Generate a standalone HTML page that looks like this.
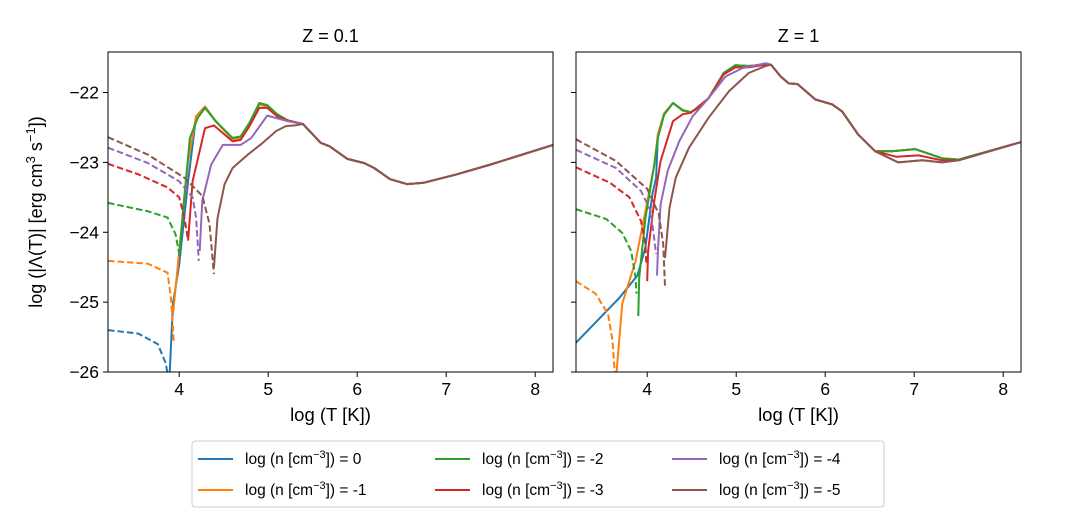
<!DOCTYPE html>
<html><head><meta charset="utf-8"><style>
body{margin:0;background:#fff;}
svg text{font-family:"Liberation Sans","DejaVu Sans",sans-serif;fill:#000;}
</style></head><body>
<svg id="chart" width="1075" height="516" viewBox="0 0 1075 516" xmlns="http://www.w3.org/2000/svg">
<defs>
<clipPath id="clipL"><rect x="108" y="52" width="445" height="320"/></clipPath>
<clipPath id="clipR"><rect x="576" y="52" width="445" height="320"/></clipPath>
</defs>
<g id="root"></g>
</svg>
<script>
const colors=['#1f77b4','#ff7f0e','#2ca02c','#d62728','#9467bd','#8c564b'];
const densityLabels=['0','-1','-2','-3','-4','-5'];
const xTicks=[4,5,6,7,8];
const yTicks=[-22,-23,-24,-25,-26];
const panelTitles=['Z = 0.1','Z = 1'];
const tailL=[[5.39,-22.45],[5.59,-22.72],[5.69,-22.77],[5.89,-22.95],[6.08,-23.01],[6.19,-23.08],[6.37,-23.24],[6.56,-23.31],[6.75,-23.29],[7.12,-23.17],[7.5,-23.03],[8.2,-22.75]];
const headR=[[5.39,-21.6],[5.5,-21.77],[5.59,-21.87],[5.69,-21.88],[5.89,-22.1],[6.08,-22.17],[6.19,-22.27],[6.37,-22.6],[6.56,-22.84]];
const tailRhigh=[[6.75,-22.84],[7.01,-22.81],[7.31,-22.94],[7.5,-22.96],[8.2,-22.71]];
const tailRmid=[[6.8,-22.92],[7.05,-22.9],[7.31,-22.97],[7.5,-22.97],[8.2,-22.71]];
const tailRlow=[[6.82,-23.0],[7.09,-22.97],[7.31,-23.0],[7.5,-22.97],[8.2,-22.71]];
const orangeL=[[3.93,-25.17],[4.0,-24.27],[4.1,-22.98],[4.19,-22.34],[4.29,-22.2],[4.41,-22.41],[4.6,-22.67],[4.69,-22.65],[4.79,-22.45],[4.9,-22.17],[4.99,-22.2],[5.1,-22.31],[5.22,-22.4]];
const solidL=[
 [[3.89,-26.1],[3.93,-25.02],[4.0,-24.46],[4.1,-23.27],[4.19,-22.34],[4.29,-22.2],[4.41,-22.41],[4.6,-22.67],[4.69,-22.65],[4.79,-22.45],[4.9,-22.17],[4.99,-22.2],[5.1,-22.31],[5.22,-22.4]],
 orangeL,
 [[4.0,-24.34],[4.05,-23.6],[4.12,-22.65],[4.21,-22.36],[4.29,-22.22],[4.41,-22.41],[4.6,-22.65],[4.69,-22.63],[4.79,-22.43],[4.9,-22.15],[4.99,-22.18],[5.1,-22.31],[5.22,-22.4]],
 [[4.1,-24.12],[4.15,-23.27],[4.29,-22.51],[4.39,-22.47],[4.6,-22.7],[4.69,-22.68],[4.79,-22.48],[4.9,-22.22],[4.99,-22.22],[5.1,-22.34],[5.22,-22.4]],
 [[4.23,-24.27],[4.26,-23.55],[4.36,-23.03],[4.49,-22.75],[4.69,-22.75],[4.81,-22.65],[4.99,-22.33],[5.22,-22.41]],
 [[4.39,-24.51],[4.43,-23.8],[4.51,-23.31],[4.6,-23.08],[4.77,-22.89],[4.92,-22.74],[5.09,-22.55],[5.2,-22.48],[5.3,-22.47]]
];
const dashL=[
 [[3.2,-25.4],[3.54,-25.45],[3.76,-25.6],[3.85,-25.88],[3.88,-26.1]],
 [[3.2,-24.41],[3.65,-24.45],[3.87,-24.58],[3.91,-24.98],[3.94,-25.6]],
 [[3.2,-23.58],[3.65,-23.7],[3.87,-23.79],[3.96,-24.03],[4.0,-24.31]],
 [[3.2,-23.02],[3.54,-23.17],[3.87,-23.36],[4.0,-23.5],[4.06,-23.8],[4.1,-24.12]],
 [[3.2,-22.79],[3.65,-23.01],[4.0,-23.27],[4.15,-23.5],[4.19,-23.79],[4.22,-24.41]],
 [[3.2,-22.64],[3.65,-22.89],[4.06,-23.22],[4.26,-23.48],[4.34,-23.88],[4.39,-24.6]]
];
const orangeR=[[3.65,-26.1],[3.72,-25.02],[3.87,-24.41],[3.98,-23.7],[4.08,-23.03],[4.12,-22.6],[4.19,-22.3],[4.29,-22.15],[4.4,-22.25],[4.49,-22.28],[4.6,-22.2],[4.69,-22.08],[4.86,-21.72],[4.99,-21.61],[5.14,-21.62],[5.33,-21.6]];
const solidR=[
 [[3.2,-25.58],[3.68,-24.95],[3.89,-24.62],[3.98,-24.22],[4.06,-23.45],[4.1,-23.22],[4.12,-22.6],[4.19,-22.3],[4.29,-22.15],[4.4,-22.25],[4.49,-22.28],[4.6,-22.2],[4.69,-22.08],[4.86,-21.72],[4.99,-21.61],[5.14,-21.62],[5.33,-21.6]],
 orangeR,
 [[3.9,-25.2],[3.91,-24.65],[3.98,-23.8],[4.08,-23.03],[4.12,-22.65],[4.19,-22.32],[4.29,-22.15],[4.4,-22.26],[4.49,-22.28],[4.6,-22.2],[4.69,-22.08],[4.86,-21.72],[4.99,-21.61],[5.14,-21.62],[5.33,-21.6]],
 [[4.0,-24.7],[4.01,-24.27],[4.08,-23.55],[4.15,-22.98],[4.29,-22.41],[4.4,-22.31],[4.49,-22.29],[4.69,-22.08],[4.86,-21.74],[4.99,-21.64],[5.14,-21.64],[5.33,-21.6]],
 [[4.11,-24.62],[4.12,-24.27],[4.15,-23.6],[4.23,-23.12],[4.36,-22.7],[4.51,-22.34],[4.69,-22.08],[4.88,-21.77],[5.07,-21.65],[5.33,-21.58]],
 [[4.2,-24.37],[4.25,-23.65],[4.32,-23.22],[4.47,-22.79],[4.69,-22.36],[4.92,-21.98],[5.14,-21.72],[5.33,-21.62]]
];
const dashR=[
 [],
 [[3.2,-24.7],[3.42,-24.88],[3.56,-25.17],[3.61,-25.55],[3.64,-26.1]],
 [[3.2,-23.67],[3.54,-23.81],[3.72,-24.01],[3.82,-24.27],[3.87,-24.65],[3.88,-24.88]],
 [[3.2,-23.07],[3.58,-23.29],[3.8,-23.5],[3.93,-23.84],[3.98,-24.17],[3.99,-24.46]],
 [[3.2,-22.82],[3.65,-23.08],[3.93,-23.41],[4.04,-23.7],[4.1,-24.31]],
 [[3.2,-22.67],[3.65,-22.98],[4.0,-23.38],[4.13,-23.74],[4.18,-24.17],[4.2,-24.77]]
];
const NS='http://www.w3.org/2000/svg';
const root=document.getElementById('root');
function mk(tag,attrs,parent){const e=document.createElementNS(NS,tag);for(const k in attrs)e.setAttribute(k,attrs[k]);(parent||root).appendChild(e);return e;}
const panels=[{x0:108,clip:'clipL'},{x0:576,clip:'clipR'}];
const W=445,H=320,Y0=52,XMIN=3.2,XMAX=8.2,YMIN=-26,YMAX=-21.42;
function sx(p,v){return p.x0+(v-XMIN)/(XMAX-XMIN)*W;}
function sy(v){return Y0+(YMAX-v)/(YMAX-YMIN)*H;}
function path(p,pts){return pts.map((q,i)=>(i?'L':'M')+sx(p,q[0]).toFixed(1)+','+sy(q[1]).toFixed(1)).join('');}
panels.forEach((p,pi)=>{
 const g=mk('g',{});
 
 
 const lines=mk('g',{'clip-path':'url(#'+p.clip+')'},g);
 const solids=pi===0?solidL:solidR, dashes=pi===0?dashL:dashR;
 for(let i=0;i<6;i++){
  let pts;
  if(pi===0) pts=solids[i].concat(tailL);
  else {const t=i<=2?tailRhigh:(i===3?tailRmid:tailRlow);pts=solids[i].concat(headR,t);}
  const s=mk('path',{d:path(p,pts),fill:'none',stroke:colors[i],'stroke-width':2,'stroke-linejoin':'round'},lines);
  
  
  if(dashes[i].length){
   const d=mk('path',{d:path(p,dashes[i]),fill:'none',stroke:colors[i],'stroke-width':2,'stroke-dasharray':'6.5,3'},lines);
   
   
  }
 }
 const fr=mk('rect',{x:p.x0,y:Y0,width:W,height:H,fill:'none',stroke:'#000','stroke-width':1},g);
 
 
 xTicks.forEach(t=>{
  const X=sx(p,t);
  mk('line',{x1:X,x2:X,y1:Y0+H,y2:Y0+H+5,stroke:'#000'},g);
  const tx=mk('text',{x:X,y:Y0+H+23,'font-size':17.5,'text-anchor':'middle'},g);
  tx.textContent=t;
  
  
 });
 yTicks.forEach(t=>{
  const Y=sy(t);
  mk('line',{x1:p.x0-5,x2:p.x0,y1:Y,y2:Y,stroke:'#000'},g);
  if(pi===0){
   const tx=mk('text',{x:p.x0-9,y:Y+6,'font-size':17.5,'text-anchor':'end'},g);
   tx.textContent='\u2212'+(-t);
   
   
  }
 });
 const ti=mk('text',{x:p.x0+W/2,y:42,'font-size':18,'text-anchor':'middle'},g);
 ti.textContent=panelTitles[pi];
 
 
 const xl=mk('text',{x:p.x0+W/2,y:421,'font-size':18.5,'text-anchor':'middle'},g);
 xl.textContent='log (T [K])';
 
 
});
const yl=mk('text',{x:0,y:0,'font-size':18,'text-anchor':'middle',transform:'translate(42,212) rotate(-90)'});
yl.innerHTML='log (|Λ(T)| [erg cm<tspan dy="-7" font-size="13">3</tspan><tspan dy="7"> s</tspan><tspan dy="-7" font-size="13">−1</tspan><tspan dy="7">])</tspan>';


const lg=mk('g',{});


mk('rect',{x:192,y:441,width:692,height:66,rx:3,fill:'#fff',stroke:'#ccc'},lg);
const colX=[198,435,672],rowY=[459,490];
for(let i=0;i<6;i++){
 const c=Math.floor(i/2),r=i%2;
 const e=mk('g',{},lg);
 
 
 mk('line',{x1:colX[c],x2:colX[c]+35,y1:rowY[r],y2:rowY[r],stroke:colors[i],'stroke-width':2},e);
 const t=mk('text',{x:colX[c]+47,y:rowY[r]+5,'font-size':15.5},e);
 t.innerHTML='log (n [cm<tspan dy="-6" font-size="11">−3</tspan><tspan dy="6">]) = '+densityLabels[i]+'</tspan>';
}
</script>
</body></html>
